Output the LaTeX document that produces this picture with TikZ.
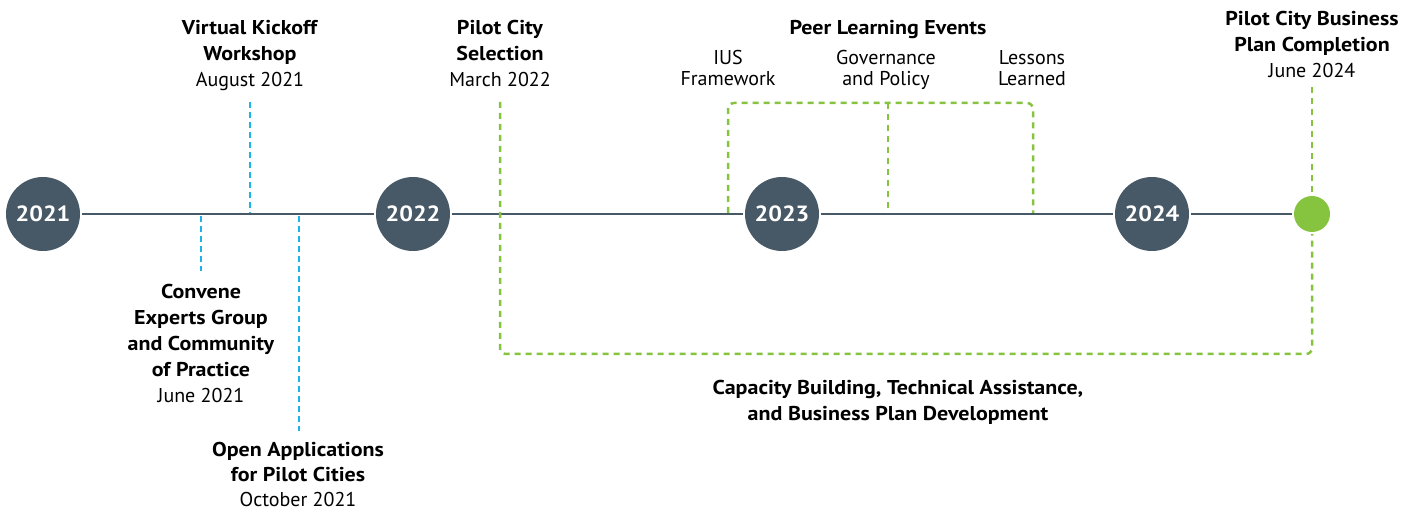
\documentclass[tikz,border=0pt]{standalone}
\usepackage{fontspec}
\setmainfont{PT Sans}[BoldFeatures={FakeStretch=1.1}]
\definecolor{slate}{HTML}{475866}
\definecolor{cyanl}{HTML}{1BB4EA}
\definecolor{greenl}{HTML}{86C440}
\begin{document}
\begin{tikzpicture}[x=1pt,y=-1pt,
 year/.style={circle, fill=slate, minimum size=74pt, inner sep=0pt, outer sep=2pt, text=white, font=\fontsize{22}{26}\selectfont\bfseries},
 mainline/.style={draw=slate, line width=2.5pt},
 bluedash/.style={draw=cyanl, line width=2.5pt, dash pattern=on 6pt off 4pt},
 greendash/.style={draw=greenl, line width=2.5pt, dash pattern=on 6pt off 5pt, rounded corners=6pt},
 lbl/.style={anchor=north, inner sep=0pt, align=center, font=\fontsize{20}{26}\selectfont, text=black},
 sublbl/.style={lbl, font=\fontsize{20}{21}\selectfont},
]
\useasboundingbox (0,0) rectangle (1416,510);
% year circles
\node[year] (y2021) at (43,214) {2021};
\node[year] (y2022) at (413,214) {2022};
\node[year] (y2023) at (782,214) {2023};
\node[year] (y2024) at (1152,214) {2024};
\node[circle, fill=greenl, minimum size=36pt, inner sep=0pt, outer sep=2pt] (dot) at (1312,214) {};
% main line
\draw[mainline] (y2021) -- (y2022);
\draw[mainline] (y2022) -- (y2023);
\draw[mainline] (y2023) -- (y2024);
\draw[mainline] (y2024) -- (dot);
% blue connectors
\coordinate (kickT) at (250,102);
\coordinate (kickB) at (250,213);
\coordinate (convT) at (201,216);
\coordinate (convB) at (201,271);
\coordinate (openT) at (299,216);
\coordinate (openB) at (299,431);
\draw[bluedash] (kickT) -- (kickB);
\draw[bluedash] (convT) -- (convB);
\draw[bluedash] (openT) -- (openB);
% green connectors
\coordinate (selT) at (500,102);
\coordinate (selC) at (500,354);
\coordinate (endC) at (1312,354);
\coordinate (endT) at (1312,87);
\draw[greendash] (selT) -- (selC) -- (endC) -- (dot.south);
\draw[greendash] (endT) -- (dot.north);
\coordinate (iusB) at (728,213);
\coordinate (iusT) at (728,103);
\coordinate (llB) at (1033,213);
\coordinate (llT) at (1033,103);
\coordinate (govB) at (888,213);
\coordinate (govT) at (888,103);
\draw[greendash] (iusB) -- (iusT) -- (llT) -- (llB);
\draw[greendash] (govT) -- (govB);
% labels
\node[lbl] (kick) at (250,20.5) {\textbf{Virtual Kickoff}\\\textbf{Workshop}\\August 2021};
\node[lbl] (sel) at (500,20.5) {\textbf{Pilot City}\\\textbf{Selection}\\March 2022};
\node[lbl] (peer) at (888,20.5) {\textbf{Peer Learning Events}};
\node[sublbl] (ius) at (728,50) {IUS\\Framework};
\node[sublbl] (gov) at (886,50) {Governance\\and Policy};
\node[sublbl] (ll) at (1032,50) {Lessons\\Learned};
\node[lbl] (bp) at (1312,11.5) {\textbf{Pilot City Business}\\\textbf{Plan Completion}\\June 2024};
\node[lbl] (conv) at (201,284) {\textbf{Convene}\\\textbf{Experts Group}\\\textbf{and Community}\\\textbf{of Practice}\\June 2021};
\node[lbl, font=\fontsize{20}{25}\selectfont] (open) at (298,442.5) {\textbf{Open Applications}\\\textbf{for Pilot Cities}\\October 2021};
\node[lbl] (cap) at (898,380.5) {\textbf{Capacity Building, Technical Assistance,}\\\textbf{and Business Plan Development}};
\end{tikzpicture}
\end{document}
